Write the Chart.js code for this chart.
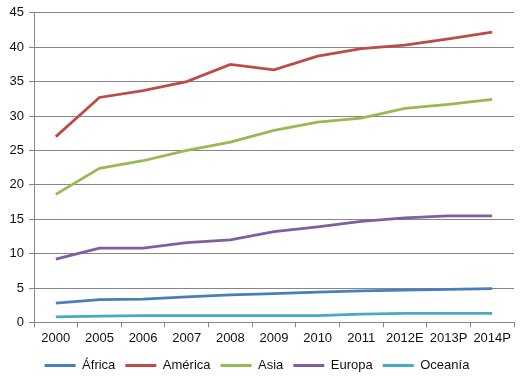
<!DOCTYPE html>
<html>
<head>
<meta charset="utf-8">
<script src="https://cdn.jsdelivr.net/npm/chart.js@4/dist/chart.umd.min.js"></script>
<style>
html,body{margin:0;padding:0;background:#fff;}
#c{display:block;}
</style>
</head>
<body>
<canvas id="c" width="525" height="382"></canvas>
<script>
const categories = ["2000","2005","2006","2007","2008","2009","2010","2011","2012E","2013P","2014P"];
const africa   = [2.8, 3.3, 3.4, 3.7, 4.0, 4.2, 4.4, 4.6, 4.7, 4.8, 4.9];
const america  = [27.0, 32.7, 33.7, 35.0, 37.5, 36.7, 38.7, 39.8, 40.3, 41.2, 42.2];
const asia     = [18.6, 22.4, 23.5, 25.0, 26.2, 27.9, 29.1, 29.7, 31.1, 31.7, 32.4];
const europa   = [9.2, 10.8, 10.8, 11.6, 12.0, 13.2, 13.9, 14.7, 15.2, 15.5, 15.5];
const oceania  = [0.8, 0.9, 1.0, 1.0, 1.0, 1.0, 1.0, 1.2, 1.3, 1.3, 1.3];
const seriesNames = ["África","América","Asia","Europa","Oceanía"];
const yTicks = [0,5,10,15,20,25,30,35,40,45];

const colors = ["#4A7EBB","#BE4B48","#98B954","#7D60A0","#46AAC5"];
const values = [africa, america, asia, europa, oceania];

const font = {family: "'Liberation Sans', Arial, sans-serif", size: 13};

new Chart(document.getElementById('c'), {
  type: 'line',
  data: {
    labels: categories,
    datasets: values.map((v,i)=>({
      label: seriesNames[i],
      data: v,
      borderColor: colors[i],
      backgroundColor: colors[i],
      borderWidth: 2.75,
      pointRadius: 0,
      tension: 0,
      fill: false
    }))
  },
  options: {
    responsive: false,
    animation: false,
    layout: {padding: {left: 0, right: 11, top: 5, bottom: 0}},
    plugins: {
      tooltip: {enabled: false},
      legend: {
        position: 'bottom',
        labels: {
          color: '#111',
          font: font,
          boxWidth: 31,
          boxHeight: 3,
          padding: 10,
          generateLabels: (chart) => chart.data.datasets.map((d,i)=>({
            text: d.label,
            fillStyle: d.borderColor,
            strokeStyle: d.borderColor,
            lineWidth: 0,
            datasetIndex: i,
            fontColor: '#111'
          }))
        }
      }
    },
    scales: {
      x: {
        offset: true,
        grid: {offset: true, drawOnChartArea: false, drawTicks: true, tickLength: 5, color: '#868686'},
        border: {color: '#868686', width: 1},
        ticks: {color: '#111', font: font, padding: 3, maxRotation: 0, autoSkip: false}
      },
      y: {
        min: 0, max: 45,
        afterFit: (s) => { s.width = 34; },
        afterBuildTicks: (s) => { s.ticks = yTicks.map(v=>({value:v})); },
        grid: {color: '#868686', drawTicks: true, tickLength: 5},
        border: {color: '#868686', width: 1},
        ticks: {color: '#111', font: font, padding: 5, stepSize: 5}
      }
    }
  }
});
</script>
</body>
</html>
